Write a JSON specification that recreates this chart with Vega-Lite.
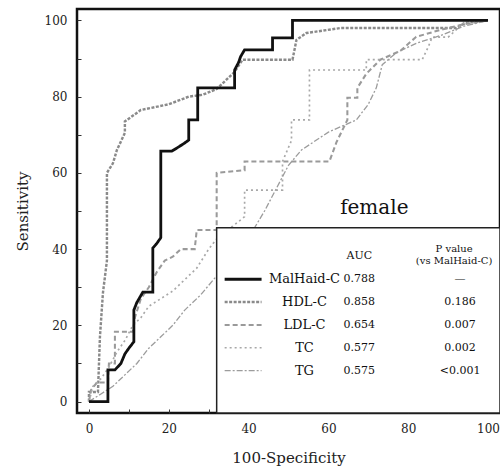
{
  "$schema": "https://vega.github.io/schema/vega-lite/v6.json",
  "width": 423,
  "height": 404,
  "autosize": "none",
  "padding": {"left": 77, "top": 9, "right": 0, "bottom": 59},
  "background": "white",
  "config": {
    "font": "DejaVu Serif",
    "view": {"stroke": "#111", "strokeWidth": 2.5},
    "axis": {"grid": false, "domain": false, "labelFont": "DejaVu Serif", "titleFont": "DejaVu Serif", "labelColor": "#222", "titleColor": "#222", "tickColor": "#333", "titleFontWeight": "normal"}
  },
  "datasets": {
    "curves": [
      {"s": "HDL-C", "x": 0, "y": 0}, {"s": "HDL-C", "x": 0, "y": 2.5}, {"s": "HDL-C", "x": 2.25, "y": 2.5}, {"s": "HDL-C", "x": 2.75, "y": 17}, {"s": "HDL-C", "x": 3.5, "y": 28.5}, {"s": "HDL-C", "x": 4.5, "y": 37}, {"s": "HDL-C", "x": 4.5, "y": 60}, {"s": "HDL-C", "x": 6, "y": 62.5}, {"s": "HDL-C", "x": 7, "y": 66}, {"s": "HDL-C", "x": 9, "y": 70.5}, {"s": "HDL-C", "x": 9, "y": 73.5}, {"s": "HDL-C", "x": 13, "y": 76.5}, {"s": "HDL-C", "x": 20, "y": 78}, {"s": "HDL-C", "x": 25, "y": 80}, {"s": "HDL-C", "x": 28.5, "y": 80.5}, {"s": "HDL-C", "x": 32, "y": 82}, {"s": "HDL-C", "x": 36.5, "y": 86.5}, {"s": "HDL-C", "x": 38.5, "y": 89.7}, {"s": "HDL-C", "x": 51, "y": 89.7}, {"s": "HDL-C", "x": 52, "y": 94.9}, {"s": "HDL-C", "x": 54.5, "y": 96.7}, {"s": "HDL-C", "x": 63, "y": 98}, {"s": "HDL-C", "x": 92, "y": 98}, {"s": "HDL-C", "x": 94.5, "y": 99.4}, {"s": "HDL-C", "x": 100, "y": 100},
      {"s": "LDL-C", "x": 0, "y": 0}, {"s": "LDL-C", "x": 0.5, "y": 3}, {"s": "LDL-C", "x": 2, "y": 5}, {"s": "LDL-C", "x": 4.75, "y": 5}, {"s": "LDL-C", "x": 5, "y": 10}, {"s": "LDL-C", "x": 6.5, "y": 10}, {"s": "LDL-C", "x": 6.5, "y": 18.3}, {"s": "LDL-C", "x": 11, "y": 18.3}, {"s": "LDL-C", "x": 11.5, "y": 22}, {"s": "LDL-C", "x": 13, "y": 27}, {"s": "LDL-C", "x": 15, "y": 30}, {"s": "LDL-C", "x": 17, "y": 34}, {"s": "LDL-C", "x": 19, "y": 37}, {"s": "LDL-C", "x": 21, "y": 38}, {"s": "LDL-C", "x": 23, "y": 40}, {"s": "LDL-C", "x": 26.5, "y": 40}, {"s": "LDL-C", "x": 27, "y": 45}, {"s": "LDL-C", "x": 32, "y": 45}, {"s": "LDL-C", "x": 32, "y": 60}, {"s": "LDL-C", "x": 39, "y": 60.7}, {"s": "LDL-C", "x": 39, "y": 63}, {"s": "LDL-C", "x": 60.25, "y": 63}, {"s": "LDL-C", "x": 62, "y": 68}, {"s": "LDL-C", "x": 64.75, "y": 73.9}, {"s": "LDL-C", "x": 64.75, "y": 79.7}, {"s": "LDL-C", "x": 67.25, "y": 79.7}, {"s": "LDL-C", "x": 67.25, "y": 82.3}, {"s": "LDL-C", "x": 69.5, "y": 86}, {"s": "LDL-C", "x": 73, "y": 89.7}, {"s": "LDL-C", "x": 78, "y": 92}, {"s": "LDL-C", "x": 82, "y": 95.7}, {"s": "LDL-C", "x": 88, "y": 97.5}, {"s": "LDL-C", "x": 94, "y": 99}, {"s": "LDL-C", "x": 100, "y": 100},
      {"s": "TC", "x": 0, "y": 0}, {"s": "TC", "x": 1, "y": 4}, {"s": "TC", "x": 3, "y": 6}, {"s": "TC", "x": 5, "y": 9}, {"s": "TC", "x": 7, "y": 13}, {"s": "TC", "x": 9, "y": 16}, {"s": "TC", "x": 11, "y": 20}, {"s": "TC", "x": 13, "y": 22}, {"s": "TC", "x": 15, "y": 25}, {"s": "TC", "x": 18, "y": 27}, {"s": "TC", "x": 21, "y": 29}, {"s": "TC", "x": 24, "y": 32}, {"s": "TC", "x": 27, "y": 35}, {"s": "TC", "x": 30, "y": 40}, {"s": "TC", "x": 33, "y": 44}, {"s": "TC", "x": 36, "y": 46}, {"s": "TC", "x": 39, "y": 48.5}, {"s": "TC", "x": 39, "y": 55.5}, {"s": "TC", "x": 48.5, "y": 55.5}, {"s": "TC", "x": 48.5, "y": 63}, {"s": "TC", "x": 50.75, "y": 68.5}, {"s": "TC", "x": 50.75, "y": 73.9}, {"s": "TC", "x": 55.25, "y": 73.9}, {"s": "TC", "x": 55.25, "y": 87}, {"s": "TC", "x": 69.5, "y": 87}, {"s": "TC", "x": 69.5, "y": 89.7}, {"s": "TC", "x": 83.5, "y": 89.7}, {"s": "TC", "x": 85, "y": 93}, {"s": "TC", "x": 86, "y": 95.6}, {"s": "TC", "x": 90, "y": 95.6}, {"s": "TC", "x": 92, "y": 97.5}, {"s": "TC", "x": 94, "y": 99.5}, {"s": "TC", "x": 100, "y": 100},
      {"s": "TG", "x": 0, "y": 0}, {"s": "TG", "x": 3, "y": 2}, {"s": "TG", "x": 6, "y": 4}, {"s": "TG", "x": 9, "y": 7}, {"s": "TG", "x": 12, "y": 10}, {"s": "TG", "x": 15, "y": 14}, {"s": "TG", "x": 18, "y": 17}, {"s": "TG", "x": 21, "y": 20}, {"s": "TG", "x": 24, "y": 24}, {"s": "TG", "x": 28, "y": 28}, {"s": "TG", "x": 32, "y": 33}, {"s": "TG", "x": 36, "y": 38}, {"s": "TG", "x": 40, "y": 43}, {"s": "TG", "x": 44, "y": 50}, {"s": "TG", "x": 48, "y": 58}, {"s": "TG", "x": 50, "y": 62}, {"s": "TG", "x": 53.25, "y": 66}, {"s": "TG", "x": 60, "y": 70.7}, {"s": "TG", "x": 67, "y": 73.9}, {"s": "TG", "x": 70, "y": 78}, {"s": "TG", "x": 72, "y": 82.3}, {"s": "TG", "x": 73.5, "y": 88.4}, {"s": "TG", "x": 77, "y": 91.5}, {"s": "TG", "x": 82, "y": 94}, {"s": "TG", "x": 88, "y": 96}, {"s": "TG", "x": 94, "y": 98.5}, {"s": "TG", "x": 100, "y": 100},
      {"s": "MalHaid-C", "x": 0, "y": 0}, {"s": "MalHaid-C", "x": 4.75, "y": 0}, {"s": "MalHaid-C", "x": 4.75, "y": 8.3}, {"s": "MalHaid-C", "x": 6.5, "y": 8.3}, {"s": "MalHaid-C", "x": 8, "y": 10}, {"s": "MalHaid-C", "x": 9, "y": 12.5}, {"s": "MalHaid-C", "x": 10, "y": 14}, {"s": "MalHaid-C", "x": 11.25, "y": 15.7}, {"s": "MalHaid-C", "x": 11.25, "y": 24}, {"s": "MalHaid-C", "x": 12, "y": 26}, {"s": "MalHaid-C", "x": 13.5, "y": 28.7}, {"s": "MalHaid-C", "x": 16, "y": 28.7}, {"s": "MalHaid-C", "x": 16, "y": 40.3}, {"s": "MalHaid-C", "x": 17, "y": 41.5}, {"s": "MalHaid-C", "x": 18, "y": 43}, {"s": "MalHaid-C", "x": 18, "y": 65.7}, {"s": "MalHaid-C", "x": 20.75, "y": 65.7}, {"s": "MalHaid-C", "x": 22, "y": 66.5}, {"s": "MalHaid-C", "x": 23.5, "y": 67.5}, {"s": "MalHaid-C", "x": 25, "y": 68.6}, {"s": "MalHaid-C", "x": 25, "y": 73.9}, {"s": "MalHaid-C", "x": 27.25, "y": 73.9}, {"s": "MalHaid-C", "x": 27.25, "y": 82.3}, {"s": "MalHaid-C", "x": 36.5, "y": 82.3}, {"s": "MalHaid-C", "x": 36.5, "y": 87}, {"s": "MalHaid-C", "x": 37.5, "y": 89}, {"s": "MalHaid-C", "x": 38, "y": 90.5}, {"s": "MalHaid-C", "x": 39, "y": 92.3}, {"s": "MalHaid-C", "x": 46, "y": 92.3}, {"s": "MalHaid-C", "x": 46, "y": 95.4}, {"s": "MalHaid-C", "x": 51, "y": 95.4}, {"s": "MalHaid-C", "x": 51, "y": 100}, {"s": "MalHaid-C", "x": 100, "y": 100}
    ],
    "table": [
      {"s": "hdr", "name": "", "auc": "AUC", "p": "P value\n(vs MalHaid-C)"},
      {"s": "MalHaid-C", "name": "MalHaid-C", "auc": "0.788", "p": "—"},
      {"s": "HDL-C", "name": "HDL-C", "auc": "0.858", "p": "0.186"},
      {"s": "LDL-C", "name": "LDL-C", "auc": "0.654", "p": "0.007"},
      {"s": "TC", "name": "TC", "auc": "0.577", "p": "0.002"},
      {"s": "TG", "name": "TG", "auc": "0.575", "p": "<0.001"}
    ]
  },
  "layer": [
    {
      "layer": [
        {
          "data": {"name": "curves"},
          "transform": [{"filter": "datum.s !== 'MalHaid-C'"}],
          "mark": {"type": "line", "clip": true},
          "encoding": {
            "x": {"field": "x", "type": "quantitative", "scale": {"domain": [-3, 103], "nice": false, "zero": false},
              "axis": {"values": [0,5,10,15,20,25,30,35,40,45,50,55,60,65,70,75,80,85,90,95,100], "labelExpr": "datum.value % 20 === 0 ? datum.label : ''", "labelOverlap": false, "labelFlush": false, "tickSize": -4, "labelPadding": 14, "labelFontSize": 12, "title": "100-Specificity", "titleFontSize": 15, "titlePadding": 16}},
            "y": {"field": "y", "type": "quantitative", "scale": {"domain": [-3, 103], "nice": false, "zero": false},
              "axis": {"values": [0,5,10,15,20,25,30,35,40,45,50,55,60,65,70,75,80,85,90,95,100], "labelExpr": "datum.value % 20 === 0 ? datum.label : ''", "labelOverlap": false, "labelFlush": false, "tickSize": -4, "labelPadding": 14, "labelFontSize": 12, "title": "Sensitivity", "titleFontSize": 15, "titlePadding": 14}},
            "color": {"field": "s", "type": "nominal", "legend": null, "scale": {"domain": ["MalHaid-C", "HDL-C", "LDL-C", "TC", "TG"], "range": ["#111111", "#8a8a8a", "#9a9a9a", "#a8a8a8", "#9c9c9c"]}},
            "strokeDash": {"field": "s", "type": "nominal", "legend": null, "scale": {"domain": ["MalHaid-C", "HDL-C", "LDL-C", "TC", "TG"], "range": [[1, 0], [3, 1.5], [5, 3], [2, 3], [6, 2, 2, 2]]}},
            "strokeWidth": {"field": "s", "type": "nominal", "legend": null, "scale": {"domain": ["MalHaid-C", "HDL-C", "LDL-C", "TC", "TG"], "range": [2.8, 1.3, 1.3, 1.3, 1.3]}},
            "order": {"value": null}
          }
        },
        {
          "data": {"name": "curves"},
          "transform": [{"filter": "datum.s === 'MalHaid-C'"}],
          "mark": {"type": "line", "clip": true},
          "encoding": {
            "x": {"field": "x", "type": "quantitative"},
            "y": {"field": "y", "type": "quantitative"},
            "color": {"field": "s", "type": "nominal", "legend": null},
            "strokeDash": {"field": "s", "type": "nominal", "legend": null},
            "strokeWidth": {"field": "s", "type": "nominal", "legend": null},
            "order": {"value": null}
          }
        },
        {
          "data": {"values": [{"box": "legend"}]},
          "mark": {"type": "rect", "fill": "white", "stroke": "#222", "strokeWidth": 1.5},
          "encoding": {
            "x": {"datum": 32, "type": "quantitative"},
            "x2": {"datum": 103},
            "y": {"datum": -3, "type": "quantitative"},
            "y2": {"datum": 45.6}
          }
        },
        {
          "data": {"values": [{"label": "female"}]},
          "mark": {"type": "text", "fontSize": 20, "font": "DejaVu Serif", "align": "center", "baseline": "middle", "color": "#111"},
          "encoding": {
            "x": {"datum": 71.5, "type": "quantitative"},
            "y": {"datum": 50.8, "type": "quantitative"},
            "text": {"field": "label"}
          }
        }
      ]
    },
    {
      "data": {"name": "table"},
      "layer": [
        {
          "transform": [{"filter": "datum.s !== 'hdr'"}],
          "mark": {"type": "rule"},
          "encoding": {
            "x": {"datum": 34, "type": "quantitative"},
            "x2": {"datum": 43.25},
            "y": {"field": "s", "type": "ordinal", "axis": null, "scale": {"type": "point", "domain": ["hdr", "MalHaid-C", "HDL-C", "LDL-C", "TC", "TG"], "range": [236, 373]}},
            "color": {"field": "s", "type": "nominal", "legend": null},
            "strokeDash": {"field": "s", "type": "nominal", "legend": null},
            "strokeWidth": {"field": "s", "type": "nominal", "legend": null}
          }
        },
        {
          "mark": {"type": "text", "fontSize": 13, "align": "center", "baseline": "middle", "color": "#111"},
          "encoding": {
            "x": {"datum": 54, "type": "quantitative"},
            "y": {"field": "s", "type": "ordinal", "axis": null},
            "text": {"field": "name"}
          }
        },
        {
          "mark": {"type": "text", "fontSize": 11, "align": "center", "baseline": "middle", "color": "#111"},
          "encoding": {
            "x": {"datum": 67.75, "type": "quantitative"},
            "y": {"field": "s", "type": "ordinal", "axis": null},
            "text": {"field": "auc"}
          }
        },
        {
          "transform": [{"filter": "datum.s !== 'hdr'"}],
          "mark": {"type": "text", "fontSize": 11, "align": "center", "baseline": "middle", "color": "#111"},
          "encoding": {
            "x": {"datum": 93, "type": "quantitative"},
            "y": {"field": "s", "type": "ordinal", "axis": null},
            "text": {"field": "p"}
          }
        },
        {
          "transform": [{"filter": "datum.s === 'hdr'"}],
          "mark": {"type": "text", "fontSize": 10, "align": "center", "baseline": "middle", "lineBreak": "\n", "lineHeight": 12, "dy": -7, "color": "#111"},
          "encoding": {
            "x": {"datum": 91.5, "type": "quantitative"},
            "y": {"field": "s", "type": "ordinal", "axis": null},
            "text": {"field": "p"}
          }
        }
      ]
    }
  ],
  "resolve": {"scale": {"y": "independent"}}
}
